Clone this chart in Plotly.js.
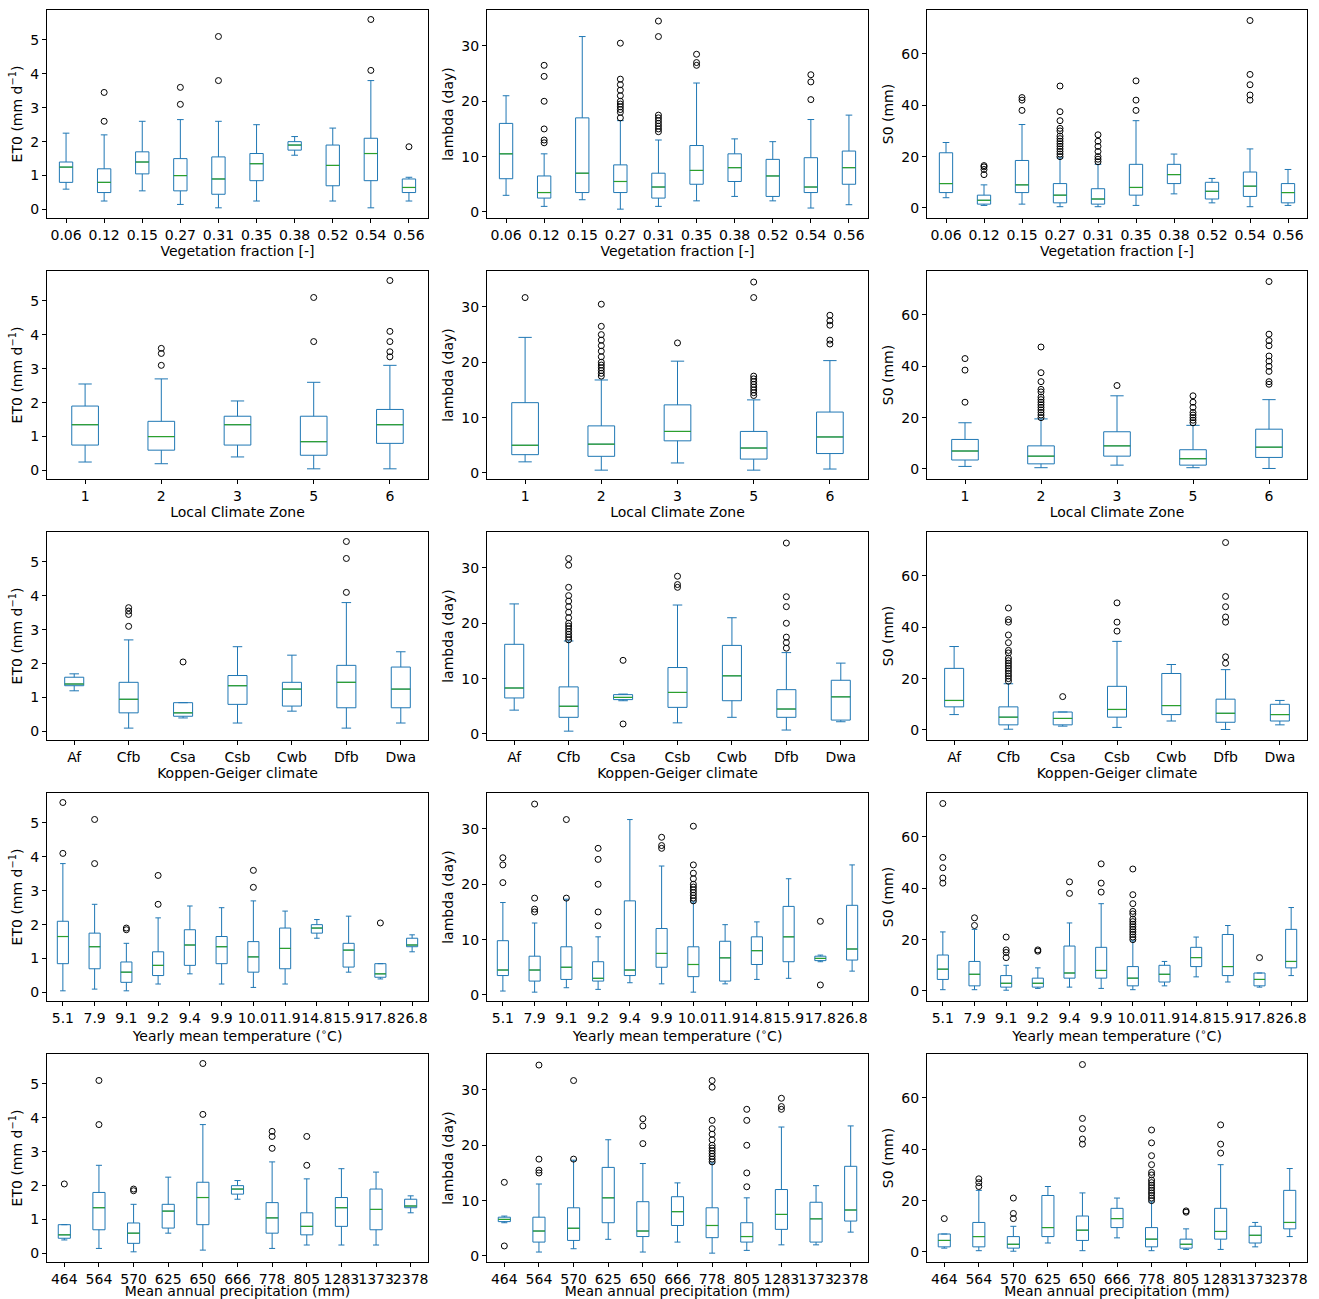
<!DOCTYPE html>
<html>
<head>
<meta charset="utf-8">
<script src="https://cdn.plot.ly/plotly-3.0.1.min.js"></script>
<style>body{margin:0;background:#fff}</style>
</head>
<body>
<div id="chart" style="width:1319px;height:1299px"></div>
<script>
// categories for each grouping
const vegCats = ['0.06','0.12','0.15','0.27','0.31','0.35','0.38','0.52','0.54','0.56'];
const lczCats = ['1','2','3','5','6'];
const kgCats = ['Af','Cfb','Csa','Csb','Cwb','Dfb','Dwa'];
const tempCats = ['5.1','7.9','9.1','9.2','9.4','9.9','10.0','11.9','14.8','15.9','17.8','26.8'];
const precCats = ['464','564','570','625','650','666','778','805','1283','1373','2378'];

// box stats: [lower whisker, q1, median, q3, upper whisker]
const vegET0 = [[0.6,0.8,1.25,1.4,2.25],[0.25,0.5,0.8,1.2,2.2],[0.55,1.05,1.4,1.7,2.6],[0.15,0.55,1.0,1.5,2.65],[0.05,0.45,0.9,1.55,2.6],[0.25,0.85,1.35,1.65,2.5],[1.6,1.75,1.9,2.0,2.15],[0.25,0.7,1.3,1.9,2.4],[0.05,0.85,1.65,2.1,3.8],[0.25,0.5,0.65,0.9,0.95]];
const vegET0Out = [[],[2.6,3.45],[],[3.1,3.6],[3.8,5.1],[],[],[],[4.1,5.6],[1.85]];
const vegLam = [[3,6,10.5,16,21],[1,2.5,3.5,6.5,10.5],[2.2,3.5,7,17,31.7],[0.5,3.5,5.5,8.5,16.5],[1,2.5,4.5,7,13],[2,5,7.5,12,23.3],[2.8,5.5,8,10.5,13.2],[2,2.8,6.5,9.5,12.7],[0.7,3.5,4.5,9.8,16.7],[1.3,5,8,11,17.5]];
const vegLamOut = [[],[12.5,13,15,20,24.5,26.5],[],[17,18,18.5,19,19.5,20,21,22,23,24,30.5],[14.5,15,15.5,16,16.5,17,17.5,31.7,34.5],[26.5,27,28.5],[],[],[20.3,23.5,24.8],[]];
const vegS0 = [[4,6,9.5,21.5,25.5],[1,1.5,3,5,9],[1.5,6,9,18.5,32.5],[0.5,2,5,9.5,19.5],[0.5,1.5,3.5,7.5,17],[1,5,8,17,34],[5.5,9.5,13,17,21],[2,3.5,6.5,10,11.5],[0.5,4.5,8.5,14,23],[1,2,6,9.5,15]];
const vegS0Out = [[],[13,15,16,16.5],[38,42,43],[20,21,22,23,24,25,26,27,28,30,31,34,37.5,47.5],[18,19,20,22,24,26,28.5],[38,42,49.5],[],[],[42,44,48,52,73],[]];

const lczET0 = [[0.25,0.75,1.35,1.9,2.55],[0.2,0.6,1.0,1.45,2.7],[0.4,0.75,1.35,1.6,2.05],[0.05,0.45,0.85,1.6,2.6],[0.05,0.8,1.35,1.8,3.1]];
const lczET0Out = [[],[3.1,3.45,3.6],[],[3.8,5.1],[3.35,3.5,3.8,4.1,5.6]];
const lczLam = [[2,3.3,5,12.7,24.5],[0.5,3,5.2,8.5,16.8],[1.8,5.8,7.5,12.3,20.2],[0.5,2.5,4.5,7.5,13.2],[0.7,3.5,6.5,11,20.3]];
const lczLamOut = [[31.7],[17.5,18,18.5,19,19.5,20,21,22,23,24,25,26.5,30.5],[23.5],[14,14.5,15,15.5,16,16.5,17,17.5,31.7,34.5],[23.3,24,26.7,27.5,28.5]];
const lczS0 = [[1,3.5,7,11.5,18],[0.5,2,5,9,19.5],[1.5,5,9,14.5,28.5],[0.5,1.5,4,7.5,17],[0.2,4.5,8.5,15.5,27]];
const lczS0Out = [[26,38.5,43],[20,21,22,23,24,25,26,27,28,30,31,34,37.5,47.5],[32.5],[18,19,20,21,22,24,26,28.5],[33,34,38,40,42,44,48,50,52.5,73]];

const kgET0 = [[1.2,1.35,1.4,1.6,1.7],[0.1,0.55,0.95,1.45,2.7],[0.4,0.45,0.55,0.85,0.85],[0.25,0.8,1.35,1.65,2.5],[0.6,0.75,1.25,1.45,2.25],[0.1,0.7,1.45,1.95,3.8],[0.25,0.7,1.25,1.9,2.35]];
const kgET0Out = [[],[3.1,3.45,3.55,3.65],[2.05],[],[],[4.1,5.1,5.6],[]];
const kgLam = [[4.3,6.5,8.3,16.2,23.5],[0.5,3,5,8.5,16.8],[6,6.2,6.6,7.1,7.2],[2,4.8,7.5,12,23.3],[3,6,10.5,16,21],[0.7,3,4.5,8,14.7],[2.2,2.5,6.7,9.7,12.8]];
const kgLamOut = [[],[17,17.5,18,18.5,19,19.5,20,21,22,23,24,25,26.5,30.5,31.7],[1.8,13.3],[26.5,27,28.5],[],[15.5,16.5,17.5,20,23,24.8,34.5],[]];
const kgS0 = [[6,9,11.5,24,32.5],[0.3,2,5,9,18],[1.5,2,4.5,7,7],[1,5,8,17,34.5],[3.5,6,9.5,22,25.5],[0.2,3,6.5,12,23.5],[2,3.5,6,10,11.5]];
const kgS0Out = [[],[19,20,21,22,23,24,25,26,27,28,30,31,34,37,42,43,47.5],[13],[38.5,42,49.5],[],[26,28.5,42,44,48,52,73],[]];

const tempET0 = [[0.05,0.85,1.65,2.1,3.8],[0.1,0.7,1.35,1.75,2.6],[0.05,0.3,0.6,0.9,1.45],[0.25,0.5,0.8,1.2,2.2],[0.55,0.8,1.4,1.85,2.55],[0.25,0.85,1.35,1.65,2.5],[0.15,0.6,1.05,1.5,2.7],[0.25,0.7,1.3,1.9,2.4],[1.6,1.75,1.9,2.0,2.15],[0.6,0.75,1.25,1.45,2.25],[0.4,0.45,0.55,0.85,0.85],[1.2,1.35,1.4,1.6,1.7]];
const tempET0Out = [[4.1,5.6],[3.8,5.1],[1.85,1.9],[2.6,3.45],[],[],[3.1,3.6],[],[],[],[2.05],[]];
const tempLam = [[0.7,3.5,4.5,9.8,16.7],[0.5,2.5,4.5,7,13],[1.3,2.8,5,8.7,17.3],[1,2.5,3,6,10.5],[2.2,3.5,4.5,17,31.7],[2,5,7.5,12,23.3],[0.5,3.3,5.5,8.7,16.8],[2,2.5,6.7,9.7,12.7],[2.8,5.5,8,10.5,13.2],[3,6,10.5,16,21],[6,6.2,6.6,7,7.2],[4.3,6.3,8.3,16.2,23.5]];
const tempLamOut = [[20.3,23.5,24.8],[15,15.5,17.5,34.5],[17.5,31.7],[12.5,15,20,24.5,26.5],[],[26.5,27,28.5],[17,17.5,18,18.5,19,19.5,20,21,22,23.5,30.5],[],[],[],[1.8,13.3],[]];
const tempS0 = [[0.5,4.5,8.5,14,23],[0.5,2,6.5,11.5,24],[0.3,1.5,3,6,10],[1,1.5,3,5,9],[1.5,5,7,17.5,26.5],[1,5,8,17,34],[0.5,2,5,9.5,19.5],[2,3.5,6.5,10,11.5],[5.5,9.5,13,17,21],[3.5,6,9.5,22,25.5],[1.5,2,4.5,7,7],[6,9,11.5,24,32.5]];
const tempS0Out = [[42,44,48,52,73],[25.5,28.5],[13,15,16,21],[15.5,16],[38,42.5],[38.5,42,49.5],[20,21,22,23,24,25,26,27,28,30,31,34,37.5,47.5],[],[],[],[13],[]];

const precET0 = [[0.4,0.45,0.55,0.85,0.85],[0.15,0.7,1.35,1.8,2.6],[0.05,0.3,0.6,0.9,1.45],[0.6,0.75,1.25,1.45,2.25],[0.1,0.85,1.65,2.1,3.8],[1.6,1.75,1.9,2.0,2.15],[0.15,0.6,1.05,1.5,2.7],[0.25,0.55,0.8,1.2,2.2],[0.25,0.8,1.35,1.65,2.5],[0.25,0.7,1.3,1.9,2.4],[1.2,1.35,1.4,1.6,1.7]];
const precET0Out = [[2.05],[3.8,5.1],[1.85,1.9],[],[4.1,5.6],[],[3.1,3.45,3.6],[2.6,3.45],[],[],[]];
const precLam = [[6,6.2,6.6,7,7.2],[0.7,2.5,4.5,7,13],[1.3,2.8,5,8.7,17.3],[3,6,10.5,16,21],[0.7,3.5,4.5,9.8,16.7],[2.5,5.5,8,10.7,13.2],[0.5,3.3,5.5,8.7,16.8],[1,2.5,3.5,6,10.5],[2,4.8,7.5,12,23.3],[2,2.5,6.7,9.7,12.7],[4.3,6.3,8.3,16.2,23.5]];
const precLamOut = [[1.8,13.3],[15,15.5,17.5,34.5],[17.5,31.7],[],[20.3,23.5,24.8],[],[17,17.5,18,18.5,19,19.5,20,21,22,23,24.5,30.5,31.7],[12.5,15,20,24.5,26.5],[26.5,27,28.5],[],[]];
const precS0 = [[1.5,2,4.5,7,7],[0.5,2,6,11.5,24],[0.3,1.5,3,6,10],[3.5,6,9.5,22,25.5],[0.5,4.5,8.5,14,23],[5.5,9.5,13,17,21],[0.5,2,5,9.5,19.5],[1,1.5,3,5,9],[1,5,8,17,34],[2,3.5,6.5,10,11.5],[6,9,11.5,24,32.5]];
const precS0Out = [[13],[25.5,27,28.5],[13,15,21],[],[42,44,48,52,73],[],[20,21,22,23,24,25,26,27,28,30,31,34,37.5,42.5,47.5],[15.5,16],[38.5,42,49.5],[],[]];

const rowTitles = ['Vegetation fraction [-]','Local Climate Zone','Koppen-Geiger climate','Yearly mean temperature (<sup>∘</sup>C)','Mean annual precipitation (mm)'];
const colTitles = ['ET0 (mm d<sup>−1</sup>)','lambda (day)','S0 (mm)'];
const grid = [
  [vegCats, [vegET0, vegLam, vegS0], [vegET0Out, vegLamOut, vegS0Out]],
  [lczCats, [lczET0, lczLam, lczS0], [lczET0Out, lczLamOut, lczS0Out]],
  [kgCats, [kgET0, kgLam, kgS0], [kgET0Out, kgLamOut, kgS0Out]],
  [tempCats, [tempET0, tempLam, tempS0], [tempET0Out, tempLamOut, tempS0Out]],
  [precCats, [precET0, precLam, precS0], [precET0Out, precLamOut, precS0Out]]
];

const W = 1319, H = 1299;
const colX = [[47,428],[487,868],[927,1307]];
const rowY = [[10,218],[271,479],[532,740],[793,1001],[1054,1262]];
const yRanges = [[-0.25,5.88],[-1.1,36.5],[-3.9,77.1]];
const yDticks = [1,10,20];
const BLUE = '#1f77b4', GREEN = '#2ca02c';
const font = {family:'DejaVu Sans, sans-serif', size:14, color:'#000'};

const data = [];
const layout = {width:W, height:H, margin:{l:0,r:0,t:0,b:0}, showlegend:false,
  paper_bgcolor:'#fff', plot_bgcolor:'#fff', font:font, boxgap:0.5};

grid.forEach((g, r) => {
  const cats = g[0];
  for (let c = 0; c < 3; c++) {
    const i = r*3 + c + 1;
    const xa = 'x' + (i === 1 ? '' : i), ya = 'y' + (i === 1 ? '' : i);
    const st = g[1][c], outs = g[2][c];
    data.push({type:'box', x:cats, xaxis:xa, yaxis:ya,
      lowerfence:st.map(s=>s[0]), q1:st.map(s=>s[1]), median:st.map(s=>s[2]),
      q3:st.map(s=>s[3]), upperfence:st.map(s=>s[4]),
      boxpoints:false, whiskerwidth:0.5, line:{color:BLUE, width:1},
      fillcolor:'rgba(0,0,0,0)', hoverinfo:'skip'});
    // line-ew marker spans twice its size, so half the box width
    const bw = (colX[c][1]-colX[c][0]) / cats.length * 0.25;
    data.push({type:'scatter', mode:'markers', x:cats, y:st.map(s=>s[2]), xaxis:xa, yaxis:ya,
      marker:{symbol:'line-ew', size:bw, line:{color:GREEN, width:1.2}}, hoverinfo:'skip'});
    const ox = [], oy = [];
    outs.forEach((arr, k) => arr.forEach(v => { ox.push(cats[k]); oy.push(v); }));
    data.push({type:'scatter', mode:'markers', x:ox, y:oy, xaxis:xa, yaxis:ya,
      marker:{symbol:'circle-open', size:6, color:'#000', line:{width:1}}, hoverinfo:'skip'});
    const ax = {showline:true, mirror:true, linecolor:'#000', linewidth:1, ticks:'outside',
      ticklen:4, tickcolor:'#000', showgrid:false, zeroline:false, tickfont:font};
    layout['xaxis' + (i===1?'':i)] = Object.assign({}, ax, {type:'category', anchor:ya,
      domain:[colX[c][0]/W, colX[c][1]/W], range:[-0.5, cats.length-0.5], tickangle:0,
      title:{text:rowTitles[r], font:font, standoff:2}});
    layout['yaxis' + (i===1?'':i)] = Object.assign({}, ax, {anchor:xa,
      domain:[1-rowY[r][1]/H, 1-rowY[r][0]/H], range:yRanges[c], dtick:yDticks[c], tick0:0,
      title:{text:colTitles[c], font:font, standoff:4}});
  }
});

Plotly.newPlot('chart', data, layout, {staticPlot:true});
</script>
</body>
</html>
